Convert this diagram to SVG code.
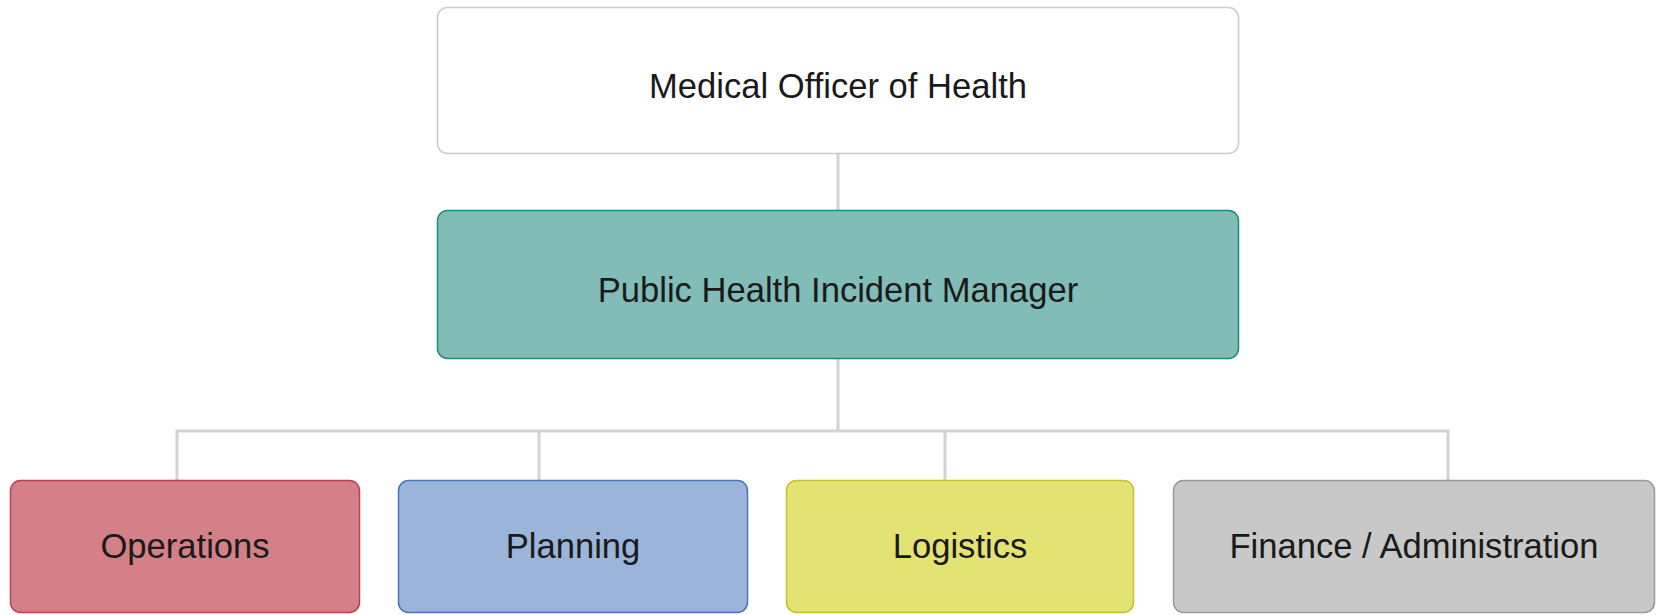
<svg xmlns="http://www.w3.org/2000/svg" width="1656" height="615" viewBox="0 0 1656 615">
<style>
.box{stroke-width:1.5}
.lbl{font-family:"Liberation Sans",Arial,sans-serif;font-size:34.6px;fill:#1a1a1a;text-anchor:middle}
.conn{fill:none;stroke:#d3d3d3;stroke-width:3}
</style>
<rect width="1656" height="615" fill="#ffffff"/>
<g id="connectors">
<line class="conn" x1="838" y1="154" x2="838" y2="210"/>
<line class="conn" x1="838" y1="358" x2="838" y2="431"/>
<polyline class="conn" points="177,480 177,431 1448,431 1448,480"/>
<line class="conn" x1="539" y1="431" x2="539" y2="480"/>
<line class="conn" x1="945" y1="431" x2="945" y2="480"/>
</g>
<g id="medical-officer">
<rect class="box" x="437.5" y="7.5" width="801" height="146" rx="10" fill="#ffffff" stroke="#cccccc"/>
<text class="lbl" x="838" y="98">Medical Officer of Health</text>
</g>
<g id="incident-manager">
<rect class="box" x="437.5" y="210.5" width="801" height="148" rx="10" fill="#82bcb6" stroke="#218a7c"/>
<text class="lbl" x="838" y="302">Public Health Incident Manager</text>
</g>
<g id="operations">
<rect class="box" x="10.5" y="480.5" width="349" height="132" rx="10" fill="#d57f88" stroke="#b84452"/>
<text class="lbl" x="185" y="558">Operations</text>
</g>
<g id="planning">
<rect class="box" x="398.5" y="480.5" width="349" height="132" rx="10" fill="#9bb4d9" stroke="#4b74b7"/>
<text class="lbl" x="573" y="558">Planning</text>
</g>
<g id="logistics">
<rect class="box" x="786.5" y="480.5" width="347" height="132" rx="10" fill="#e3e373" stroke="#c2c22a"/>
<text class="lbl" x="960" y="558">Logistics</text>
</g>
<g id="finance">
<rect class="box" x="1173.5" y="480.5" width="481" height="132" rx="10" fill="#c8c8c8" stroke="#9a9a9a"/>
<text class="lbl" x="1414" y="558">Finance / Administration</text>
</g>
</svg>
